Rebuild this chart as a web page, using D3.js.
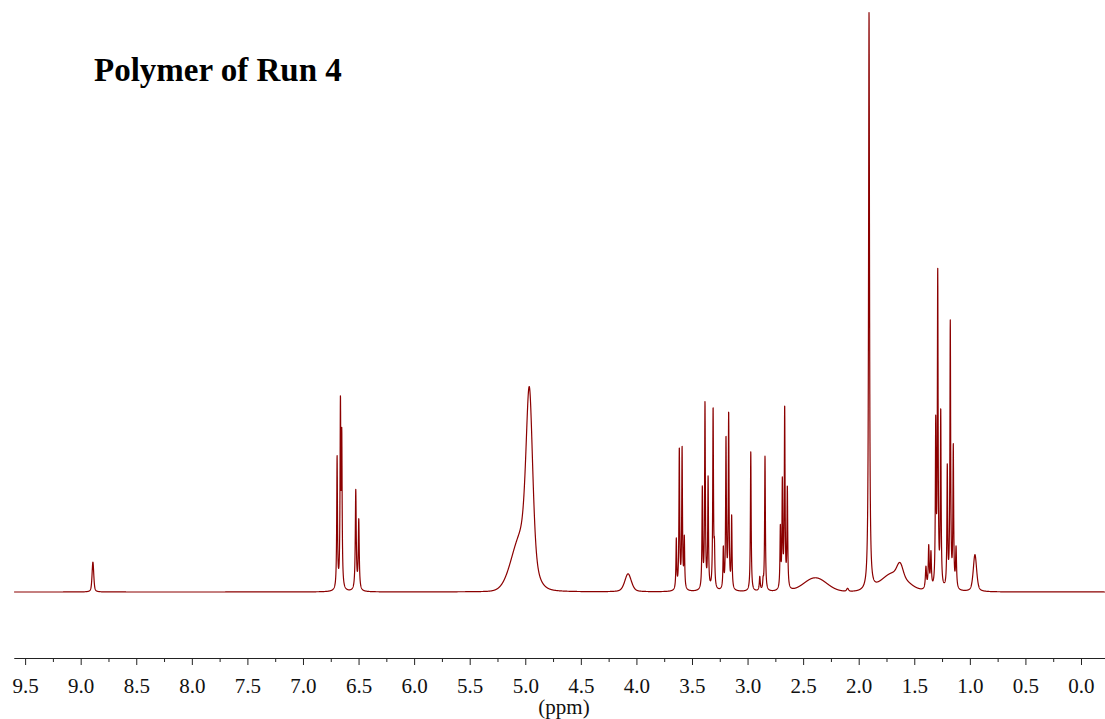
<!DOCTYPE html>
<html>
<head>
<meta charset="utf-8">
<script src="https://cdn.jsdelivr.net/npm/d3@7"></script>
<style>
  body { margin: 0; background: #fff; }
  svg { display: block; }
</style>
</head>
<body>
<svg id="chart" width="1105" height="719"></svg>
<script>
// peak list:
// position (ppm), relative height, half width (ppm), gaussian share of the line shape
const peakPpm = [
  8.89,
  6.693, 6.663, 6.651, 6.525, 6.498,
  5.04, 4.963,
  4.075,
  3.641, 3.614, 3.589, 3.569,
  3.407, 3.383, 3.355, 3.31, 3.298,
  3.218, 3.194, 3.17, 3.143,
  2.971, 2.89, 2.86, 2.843,
  2.705, 2.687, 2.666, 2.642,
  2.39, 2.1,
  1.907,
  1.68, 1.628,
  1.395, 1.37, 1.35,
  1.307, 1.289, 1.262,
  1.203, 1.176, 1.149, 1.124,
  0.954
];
const peakHeight = [
  30,
  132, 180, 145, 100, 70,
  50, 172,
  18,
  50, 140, 140, 50,
  100, 185, 110, 180, 35,
  40, 150, 175, 72,
  140, 14, 8, 135,
  60, 105, 180, 100,
  14, 3,
  578,
  19, 12,
  22, 42, 35,
  160, 312, 175,
  120, 265, 140, 40,
  37
];
const peakWidth = [
  0.009,
  0.004, 0.004, 0.004, 0.005, 0.005,
  0.1, 0.035,
  0.035,
  0.004, 0.004, 0.004, 0.004,
  0.004, 0.004, 0.004, 0.004, 0.004,
  0.004, 0.004, 0.004, 0.004,
  0.004, 0.005, 0.004, 0.004,
  0.004, 0.004, 0.004, 0.004,
  0.12, 0.01,
  0.005,
  0.13, 0.03,
  0.006, 0.005, 0.005,
  0.004, 0.004, 0.004,
  0.004, 0.004, 0.004, 0.005,
  0.018
];
const peakGauss = [
  0.5,
  0, 0, 0, 0, 0,
  1, 0.6,
  0.6,
  0, 0, 0, 0,
  0, 0, 0, 0, 0,
  0, 0, 0, 0,
  0, 0, 0, 0,
  0, 0, 0, 0,
  1, 0.5,
  0,
  1, 1,
  0, 0, 0,
  0, 0, 0,
  0, 0, 0, 0,
  0.5
];
const majorTicks = d3.range(0, 9.51, 0.5);
const minorTicks = d3.range(0.25, 9.6, 0.5);
const title = "Polymer of Run 4";
const unitLabel = "(ppm)";

const serif = "'Liberation Serif', 'Times New Roman', serif";
const svg = d3.select("#chart");
const x = d3.scaleLinear().domain([9.6, -0.216]).range([14, 1105]);
const y = d3.scaleLinear().domain([0, 580]).range([592, 12]);

const peaks = peakPpm.map((p, i) => ({ppm: p, h: peakHeight[i], w: peakWidth[i], g: peakGauss[i]}));
const lineShape = (pk, ppm) => {
  const d = ppm - pk.ppm;
  const lor = pk.w * pk.w / (d * d + pk.w * pk.w);
  const gau = Math.exp(-Math.LN2 * d * d / (pk.w * pk.w));
  return pk.h * (pk.g * gau + (1 - pk.g) * lor);
};
const intensity = ppm => d3.sum(peaks, pk => lineShape(pk, ppm));

const spectrum = d3.range(-0.216, 9.6, 0.0008).map(p => [p, intensity(p)]);

svg.append("path")
  .datum(spectrum)
  .attr("fill", "none")
  .attr("stroke", "#8b0000")
  .attr("stroke-width", 1.2)
  .attr("stroke-linejoin", "round")
  .attr("d", d3.line().x(d => x(d[0])).y(d => y(d[1])));

const axisY = 658;
svg.append("g")
  .attr("transform", `translate(0,${axisY})`)
  .call(d3.axisBottom(x).tickValues(minorTicks).tickSize(4).tickSizeOuter(0).tickFormat(""))
  .call(g => g.selectAll("line,path").attr("stroke", "#222"));

svg.append("g")
  .attr("transform", `translate(0,${axisY})`)
  .call(d3.axisBottom(x).tickValues(majorTicks).tickSize(7).tickSizeOuter(0)
    .tickPadding(13).tickFormat(d3.format(".1f")))
  .call(g => g.selectAll("line,path").attr("stroke", "#222"))
  .call(g => g.selectAll("text")
    .attr("fill", "#111")
    .style("font-family", serif)
    .style("font-size", "21px"));

svg.append("text")
  .attr("x", 564).attr("y", 714)
  .attr("text-anchor", "middle")
  .style("font-family", serif)
  .style("font-size", "21px")
  .attr("fill", "#111")
  .text(unitLabel);

svg.append("text")
  .attr("x", 94).attr("y", 81)
  .style("font-family", serif)
  .style("font-size", "33px")
  .style("font-weight", "bold")
  .attr("fill", "#000")
  .text(title);
</script>
</body>
</html>
